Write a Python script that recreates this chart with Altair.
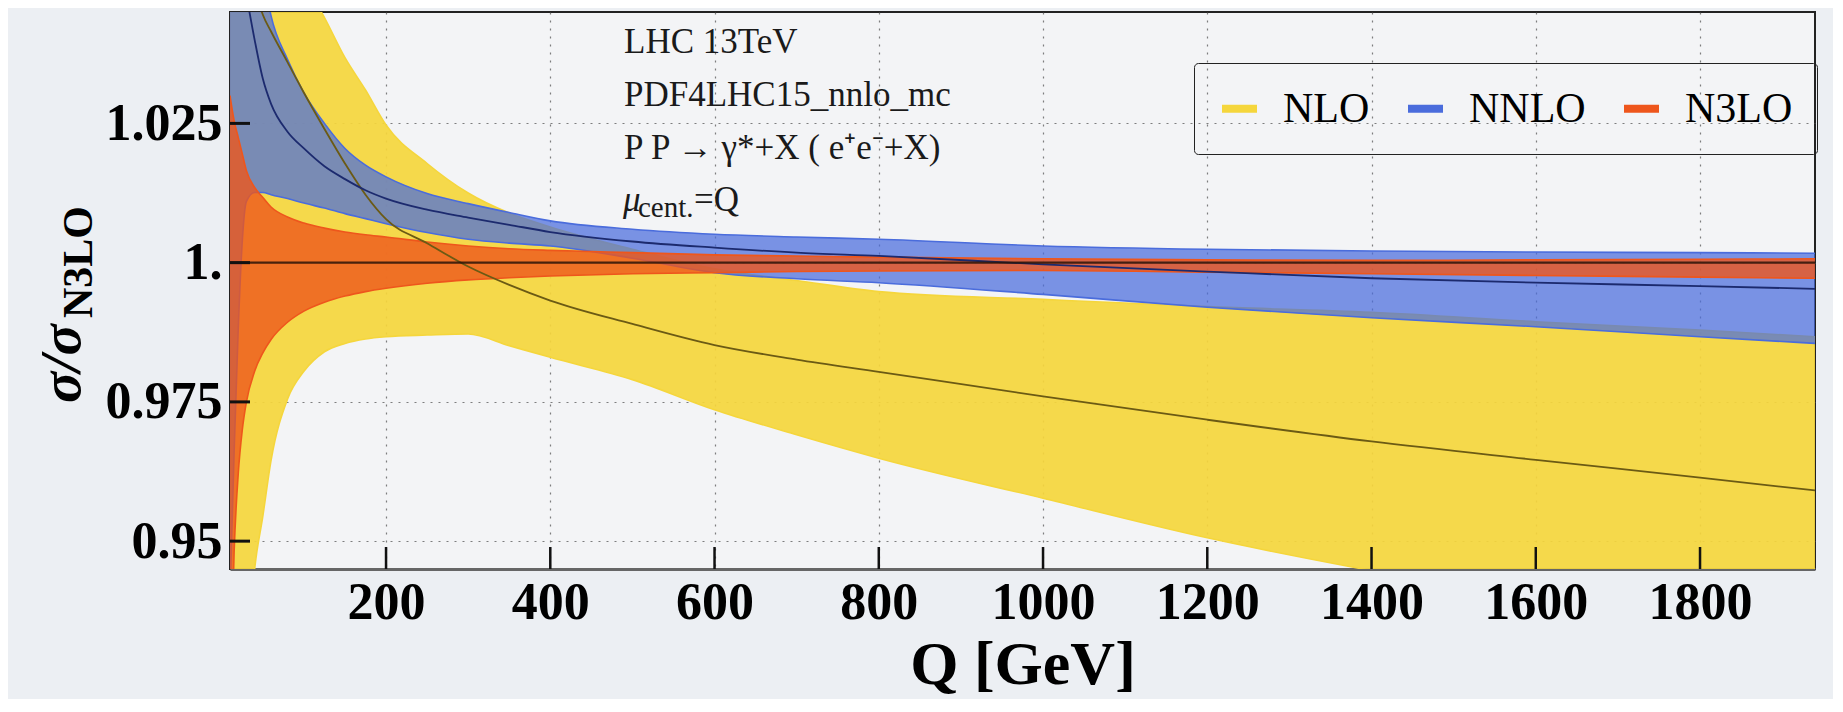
import altair as alt
import pandas as pd

# ---------------- data ----------------
Q = [10, 15, 20, 25, 30, 40, 50, 60, 80, 100, 125, 150, 175, 200, 250, 300,
     350, 400, 500, 600, 700, 800, 1000, 1200, 1400, 1600, 1800, 1940]

nlo_hi = [1.16, 1.14, 1.125, 1.11, 1.10, 1.085, 1.075, 1.068, 1.058, 1.0505,
          1.0440, 1.0368, 1.0310, 1.0247, 1.0178, 1.0125, 1.0089, 1.0064,
          1.0024, 0.9989, 0.9968, 0.9948, 0.9934, 0.9921, 0.9911, 0.9894,
          0.9879, 0.9867]
nlo_lo = [0.86, 0.88, 0.90, 0.915, 0.927, 0.945, 0.9545, 0.9645, 0.9755,
          0.9805, 0.9840, 0.9855, 0.9863, 0.9867, 0.9870, 0.9872, 0.9851,
          0.9830, 0.9790, 0.9736, 0.9691, 0.9649, 0.9577, 0.9506, 0.9447,
          0.9395, 0.9350, 0.9320]
nlo_c = [1.10, 1.085, 1.072, 1.063, 1.057, 1.0495, 1.0445, 1.0415, 1.036,
         1.0305, 1.0240, 1.0178, 1.0122, 1.0078, 1.0035, 0.9993, 0.9960,
         0.9932, 0.9890, 0.9852, 0.9826, 0.9804, 0.9760, 0.9718, 0.9679,
         0.9646, 0.9614, 0.9591]

nnlo_hi = [1.20, 1.15, 1.12, 1.10, 1.085, 1.065, 1.052, 1.0443, 1.0365,
           1.0305, 1.0250, 1.0205, 1.0175, 1.0154, 1.0124, 1.0106, 1.0090,
           1.0075, 1.0060, 1.0051, 1.0046, 1.0042, 1.0030, 1.0024, 1.0021,
           1.0019, 1.0018, 1.0017]
nnlo_lo = [0.94, 0.966, 0.988, 1.004, 1.011, 1.0126, 1.0126, 1.0122, 1.0115,
           1.0107, 1.0098, 1.0088, 1.0079, 1.0070, 1.0054, 1.0042, 1.0035,
           1.0030, 1.0008, 0.9982, 0.9971, 0.9964, 0.9943, 0.9920, 0.9901,
           0.9885, 0.9867, 0.9855]
nnlo_c = [1.10, 1.075, 1.060, 1.052, 1.048, 1.040, 1.033, 1.0285, 1.0235,
          1.0205, 1.0173, 1.0150, 1.0130, 1.0115, 1.0095, 1.0081, 1.0068,
          1.0055, 1.0038, 1.0027, 1.0018, 1.0012, 0.9997, 0.9984, 0.9972,
          0.9964, 0.9958, 0.9953]

n3lo_hi = [1.030, 1.0255, 1.0225, 1.0195, 1.0165, 1.0135, 1.0117, 1.0100,
           1.0082, 1.0071, 1.0062, 1.0055, 1.0050, 1.0046, 1.0037, 1.0030,
           1.0025, 1.0022, 1.0018, 1.0014, 1.0012, 1.0010, 1.0007, 1.0005,
           1.0004, 1.0005, 1.0006, 1.0007]
n3lo_lo = [0.92, 0.948, 0.962, 0.970, 0.975, 0.9805, 0.9838, 0.9862, 0.9893,
           0.9913, 0.9929, 0.9940, 0.9948, 0.9954, 0.9963, 0.9969, 0.9973,
           0.9976, 0.9980, 0.9982, 0.9984, 0.9985, 0.9986, 0.9983, 0.9980,
           0.9977, 0.9974, 0.9972]
n3lo_q_c = [10, 1940]
n3lo_c = [1.0, 1.0]

orders = ["NLO", "NNLO", "N3LO"]
order_colors = ["#f5d63c", "#4a6cdc", "#ee561c"]
x_ticks = [200, 400, 600, 800, 1000, 1200, 1400, 1600, 1800]
y_ticks = [0.95, 0.975, 1.0, 1.025]
info_lines = "LHC 13TeV\nPDF4LHC15_nnlo_mc\nP P \u2192 \u03b3*+X ( e\u207ae\u207b+X)"

# ---------------- tables ----------------
def band(name, hi, lo, c):
    return pd.DataFrame({"Q": Q, "hi": hi, "lo": lo, "c": c, "order": name})

bands = {
    "NLO": band("NLO", nlo_hi, nlo_lo, nlo_c),
    "NNLO": band("NNLO", nnlo_hi, nnlo_lo, nnlo_c),
    "N3LO": band("N3LO", n3lo_hi, n3lo_lo, [1.0] * len(Q)),
}
n3lo_line = pd.DataFrame({"Q": n3lo_q_c, "c": n3lo_c})

SERIF = "Liberation Serif"
W, H = 1585, 557

xscale = alt.Scale(domain=[10, 1940], nice=False, zero=False)
yscale = alt.Scale(domain=[0.945, 1.045], nice=False, zero=False)
cscale = alt.Scale(domain=orders, range=order_colors)

xaxis = alt.Axis(values=x_ticks, format="d", grid=True, ticks=False, labelFont=SERIF,
                 labelFontWeight="bold", labelFontSize=52, labelColor="#000",
                 labelPadding=8, domainColor="#666", domainWidth=3,
                 title="Q [GeV]", titleFont=SERIF, titleFontWeight="bold",
                 titleFontSize=62, titleColor="#000", titlePadding=6)
yaxis = alt.Axis(values=y_ticks, grid=True, ticks=False, labelFont=SERIF,
                 labelFontWeight="bold", labelFontSize=52, labelColor="#000",
                 labelPadding=8, domain=False, title=None,
                 labelExpr="datum.value == 1 ? '1.' : format(datum.value, '.3~f')")

leg = alt.Legend(orient="none", legendX=964, legendY=51, direction="horizontal",
                 title=None, symbolType="stroke", symbolStrokeWidth=8,
                 symbolSize=1225, symbolOpacity=1, labelFont=SERIF,
                 labelFontSize=42, labelColor="#000", labelOffset=22,
                 columnPadding=22, padding=24, strokeColor="#222",
                 cornerRadius=4, fillColor="transparent", labelLimit=300)

opac = {"NLO": 0.92, "NNLO": 0.72, "N3LO": 0.8}
layers = []
for name in orders:
    df = bands[name]
    base = alt.Chart(df)
    layers.append(
        base.mark_area(opacity=opac[name], clip=True, interpolate="monotone").encode(
            x=alt.X("Q:Q", scale=xscale, axis=xaxis),
            y=alt.Y("lo:Q", scale=yscale, axis=yaxis),
            y2="hi:Q",
            color=alt.Color("order:N", scale=cscale, legend=leg),
        )
    )
    for col in ["hi", "lo"]:
        layers.append(
            base.mark_line(strokeWidth=1.6, clip=True, interpolate="monotone").encode(
                x="Q:Q", y=f"{col}:Q",
                color=alt.Color("order:N", scale=cscale, legend=leg),
            )
        )

layers.append(
    alt.Chart(bands["NLO"]).mark_line(color="#6b5a14", strokeWidth=1.8, clip=True,
                                      interpolate="monotone").encode(x="Q:Q", y="c:Q")
)
layers.append(
    alt.Chart(bands["NNLO"]).mark_line(color="#1c2a6e", strokeWidth=1.8, clip=True,
                                       interpolate="monotone").encode(x="Q:Q", y="c:Q")
)
layers.append(
    alt.Chart(n3lo_line).mark_line(color="#2a1408", strokeWidth=2.2, opacity=0.85,
                                   clip=True).encode(x="Q:Q", y="c:Q")
)

# inward ticks
layers.append(
    alt.Chart(pd.DataFrame({"Q": x_ticks})).mark_rule(color="#111", strokeWidth=2.5).encode(
        x="Q:Q", y=alt.value(H), y2=alt.value(H - 22))
)
layers.append(
    alt.Chart(pd.DataFrame({"v": y_ticks})).mark_rule(color="#111", strokeWidth=3).encode(
        y="v:Q", x=alt.value(0), x2=alt.value(20))
)

# annotation text
layers.append(
    alt.Chart(pd.DataFrame({"t": [info_lines]})).mark_text(
        font=SERIF, fontSize=35, color="#1a1a1a", align="left", baseline="alphabetic",
        lineBreak="\n", lineHeight=53).encode(text="t:N", x=alt.value(394), y=alt.value(41))
)
layers.append(
    alt.Chart(pd.DataFrame({"t": ["\u03bc"]})).mark_text(
        font=SERIF, fontSize=35, fontStyle="italic", color="#1a1a1a", align="left",
        baseline="alphabetic").encode(text="t:N", x=alt.value(393), y=alt.value(199))
)
layers.append(
    alt.Chart(pd.DataFrame({"t": ["cent."]})).mark_text(
        font=SERIF, fontSize=29, color="#1a1a1a", align="left",
        baseline="alphabetic").encode(text="t:N", x=alt.value(408), y=alt.value(205))
)
layers.append(
    alt.Chart(pd.DataFrame({"t": ["=Q"]})).mark_text(
        font=SERIF, fontSize=35, color="#1a1a1a", align="left",
        baseline="alphabetic").encode(text="t:N", x=alt.value(464), y=alt.value(199))
)

# y title  sigma / sigma_N3LO
layers.append(
    alt.Chart(pd.DataFrame({"t": ["\u03c3/\u03c3"]})).mark_text(
        font=SERIF, fontSize=58, fontStyle="italic", fontWeight="bold", color="#000",
        align="left", baseline="alphabetic", angle=270).encode(
        text="t:N", x=alt.value(-150), y=alt.value(391))
)
layers.append(
    alt.Chart(pd.DataFrame({"t": ["N3LO"]})).mark_text(
        font=SERIF, fontSize=42, fontWeight="bold", color="#000",
        align="left", baseline="alphabetic", angle=270).encode(
        text="t:N", x=alt.value(-138), y=alt.value(306))
)

chart = alt.layer(*layers).properties(
    width=W, height=H,
    autosize=alt.AutoSizeParams(type="none"),
    padding={"left": 222, "top": 4, "right": 18, "bottom": 130},
    background="#eceff3",
).configure_view(
    fill="#f3f4f6", stroke="#222", strokeWidth=2
).configure_axis(
    gridDash=[2, 6], gridColor="#555", gridOpacity=0.75, gridWidth=1.2
)

chart.save("out.html", embed_options={"renderer": "svg", "actions": False})
